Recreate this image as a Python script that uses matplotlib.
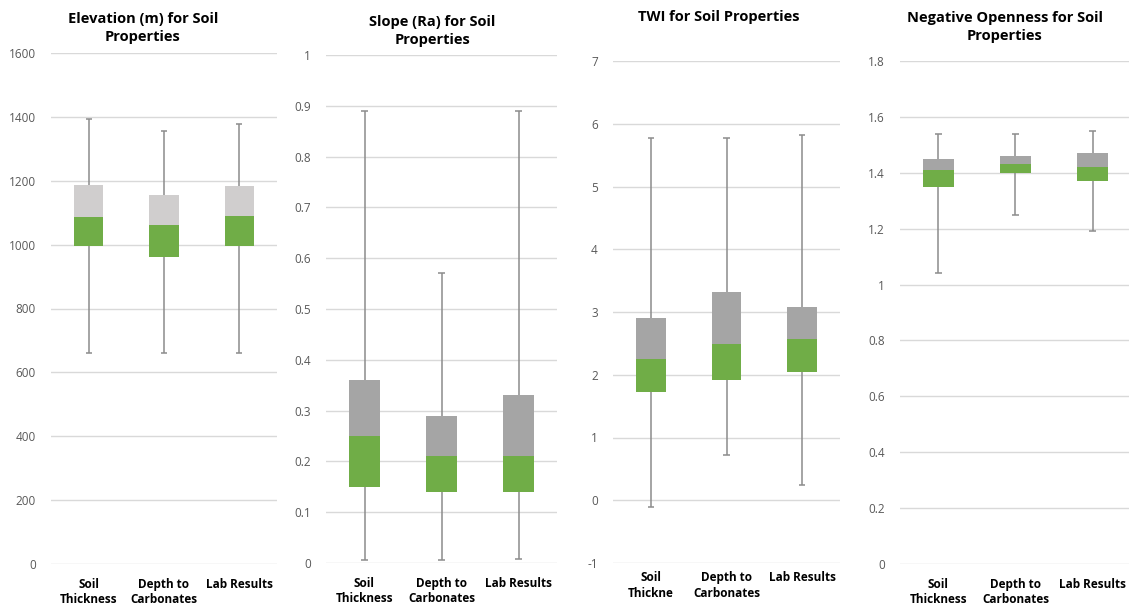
import matplotlib
matplotlib.use("Agg")
import matplotlib.pyplot as plt
from matplotlib.ticker import FuncFormatter

plt.rcParams["font.family"] = ["Open Sans", "DejaVu Sans"]

# Box-plot summaries (min, Q1, median, Q3, max) per soil-property group
groups = ["Soil\nThickness", "Depth to\nCarbonates", "Lab Results"]
groups_twi = ["Soil\nThickne", "Depth to\nCarbonates", "Lab Results"]

elev_min = [660, 660, 660]
elev_q1 = [995, 960, 997]
elev_med = [1085, 1063, 1090]
elev_q3 = [1188, 1155, 1185]
elev_max = [1393, 1355, 1378]

slope_min = [0.005, 0.005, 0.007]
slope_q1 = [0.15, 0.14, 0.14]
slope_med = [0.25, 0.21, 0.21]
slope_q3 = [0.36, 0.29, 0.33]
slope_max = [0.89, 0.57, 0.89]

twi_min = [-0.1, 0.72, 0.25]
twi_q1 = [1.72, 1.92, 2.05]
twi_med = [2.25, 2.49, 2.57]
twi_q3 = [2.90, 3.32, 3.08]
twi_max = [5.78, 5.78, 5.82]

neg_min = [1.04, 1.25, 1.19]
neg_q1 = [1.35, 1.40, 1.37]
neg_med = [1.41, 1.43, 1.42]
neg_q3 = [1.45, 1.46, 1.47]
neg_max = [1.54, 1.54, 1.55]

GREEN = "#70ad47"
LIGHT_GREY = "#d0cece"
GREY = "#a5a5a5"
WHISKER = "#8c8c8c"
GRID = "#d9d9d9"
TICK_TEXT = "#595959"

W, H = 1129, 607
fig = plt.figure(figsize=(W / 100, H / 100), dpi=100)


def px_axes(left, right, top, bottom):
    return fig.add_axes([left / W, 1 - bottom / H, (right - left) / W, (bottom - top) / H])


def fmt(v, _):
    return f"{v:g}"


def boxpanel(ax, labels, vmin, q1, med, q3, vmax, upper_color, ylim, step, xlab_pad):
    x = list(range(len(labels)))
    # whiskers with small caps
    ax.vlines(x, vmin, vmax, color=WHISKER, lw=1.1, zorder=2)
    ax.hlines(vmin, [i - 0.04 for i in x], [i + 0.04 for i in x], color=WHISKER, lw=1.1, zorder=2)
    ax.hlines(vmax, [i - 0.04 for i in x], [i + 0.04 for i in x], color=WHISKER, lw=1.1, zorder=2)
    # lower box (Q1 -> median) and upper box (median -> Q3)
    lower_h = [m - a for a, m in zip(q1, med)]
    upper_h = [b - m for m, b in zip(med, q3)]
    ax.bar(x, lower_h, bottom=q1, width=0.39, color=GREEN, zorder=3)
    ax.bar(x, upper_h, bottom=med, width=0.39, color=upper_color, zorder=3)

    ax.set_xlim(-0.5, len(labels) - 0.5)
    ax.set_ylim(*ylim)
    ticks = []
    t = ylim[0]
    while t <= ylim[1] + 1e-9:
        ticks.append(round(t, 6))
        t += step
    ax.set_yticks(ticks)
    ax.yaxis.set_major_formatter(FuncFormatter(fmt))
    ax.grid(axis="y", color=GRID, lw=1.0, zorder=0)
    ax.set_axisbelow(True)
    for s in ax.spines.values():
        s.set_visible(False)
    ax.tick_params(axis="y", length=0, pad=11, labelsize=8.5, labelcolor=TICK_TEXT)
    ax.tick_params(axis="x", length=0, pad=xlab_pad)
    ax.set_xticks(x)
    ax.set_xticklabels(labels, fontsize=8.5, fontweight="bold", color="#000000",
                       linespacing=1.25)


ax1 = px_axes(51, 277, 53, 564)
boxpanel(ax1, groups, elev_min, elev_q1, elev_med, elev_q3, elev_max,
         LIGHT_GREY, (0, 1600), 200, 10)

ax2 = px_axes(326, 557, 55, 563)
boxpanel(ax2, groups, slope_min, slope_q1, slope_med, slope_q3, slope_max,
         GREY, (0, 1.0), 0.1, 10)

ax3 = px_axes(613, 840, 61, 563)
boxpanel(ax3, groups_twi, twi_min, twi_q1, twi_med, twi_q3, twi_max,
         GREY, (-1, 7), 1, 6)

ax4 = px_axes(900, 1131, 61, 564)
boxpanel(ax4, groups, neg_min, neg_q1, neg_med, neg_q3, neg_max,
         GREY, (0, 1.8), 0.2, 10)

title_kw = dict(ha="center", va="center", fontsize=10.5, fontweight="bold",
                linespacing=1.35)
fig.text(143 / W, 1 - 28 / H, "Elevation (m) for Soil\nProperties", **title_kw)
fig.text(432 / W, 1 - 31 / H, "Slope (Ra) for Soil\nProperties", **title_kw)
fig.text(719 / W, 1 - 17 / H, "TWI for Soil Properties", **title_kw)
fig.text(1005 / W, 1 - 27 / H, "Negative Openness for Soil\nProperties", **title_kw)

fig.savefig("out.png", dpi=100, facecolor="white")
